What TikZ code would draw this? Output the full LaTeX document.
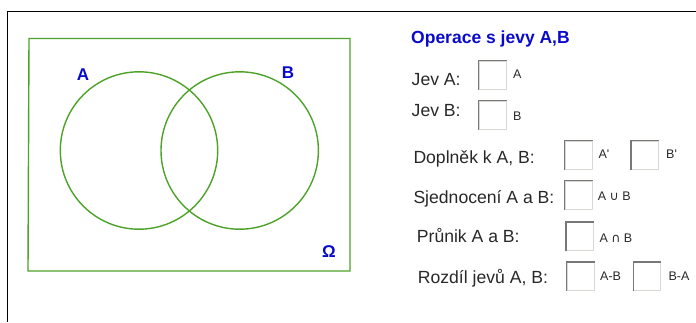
\documentclass[tikz,border=0pt]{standalone}
\usepackage{fontspec}
\setmainfont{Liberation Sans}
\newfontfamily\symfont{DejaVu Sans}
\definecolor{venngreen}{RGB}{78,162,42}
\definecolor{labelblue}{RGB}{10,10,205}
\definecolor{boxdark}{RGB}{120,120,120}
\definecolor{boxlight}{RGB}{218,216,210}
\definecolor{txt}{RGB}{40,40,40}
\begin{document}
\begin{tikzpicture}[x=1pt,y=-1pt,
  setlabel/.style={font=\fontsize{17}{20}\selectfont\bfseries, text=labelblue, inner sep=0pt},
  title/.style={font=\fontsize{17.5}{20}\selectfont\bfseries, text=labelblue, inner sep=0pt, anchor=base west},
  rowtext/.style={font=\fontsize{17.6}{20}\selectfont, text=txt, inner sep=0pt, anchor=base west},
  smalltext/.style={font=\fontsize{12.5}{14}\selectfont, text=txt, inner sep=0pt, anchor=base west},
  cbox/.style={draw=boxlight, line width=1pt, minimum width=27pt, minimum height=28pt, inner sep=0pt, anchor=north west},
  vennline/.style={draw=venngreen, line width=1.4pt}
]
\useasboundingbox (0,0) rectangle (696,322);
% outer frame
\draw[line width=1pt] (696,11) -- (7,11) -- (7,322);
% Venn diagram
\draw[vennline] (29,38.5) -- (350,38.5) -- (350,271) -- (28,271) -- cycle;
\draw[vennline] (139,150.5) circle (78.7);
\draw[vennline] (239.7,150.5) circle (78.7);
\node[setlabel] (la) at (83,75) {A};
\node[setlabel] (lb) at (288,73) {B};
\node[setlabel] (lo) at (329,252) {Ω};
% title
\node[title] (t) at (411,43) {Operace s jevy A,B};
% rows
\node[rowtext] (r1) at (411.5,85.5) {Jev A:};
\node[cbox] (b1) at (478.5,60.5) {};
\node[smalltext] (s1) at (513,78.5) {A};

\node[rowtext] (r2) at (411.5,116.8) {Jev B:};
\node[cbox] (b2) at (478.5,100.5) {};
\node[smalltext] (s2) at (513,120) {B};

\node[rowtext] (r3) at (413.3,163.3) {Doplněk k A, B:};
\node[cbox] (b3) at (564.5,140.5) {};
\node[smalltext] (s3) at (598.3,158) {A\textquotesingle};
\node[cbox] (b4) at (631,140.5) {};
\node[smalltext] (s4) at (666,158) {B\textquotesingle};

\node[rowtext] (r4) at (413.3,203.3) {Sjednocení A a B:};
\node[cbox] (b5) at (564.5,180.5) {};
\node[smalltext] (s5) at (597.7,200.3) {A {\symfont\fontsize{12.5}{14}\selectfont ∪} B};

\node[rowtext] (r5) at (416.7,242.3) {Průnik A a B:};
\node[cbox] (b6) at (566,222) {};
\node[smalltext] (s6) at (599.3,242.3) {A {\symfont\fontsize{12.5}{14}\selectfont ∩} B};

\node[rowtext] (r6) at (417.7,283.3) {Rozdíl jevů A, B:};
\node[cbox] (b7) at (566.7,262) {};
\node[smalltext] (s7) at (600,280.3) {A-B};
\node[cbox] (b8) at (633.3,262) {};
\node[smalltext] (s8) at (668.3,280.3) {B-A};
% inset shading of the check boxes
\foreach \b in {b1,b2,b3,b4,b5,b6,b7,b8}
  \draw[boxdark, line width=1.5pt] (\b.south west) -- (\b.north west) -- (\b.north east);
\end{tikzpicture}
\end{document}
